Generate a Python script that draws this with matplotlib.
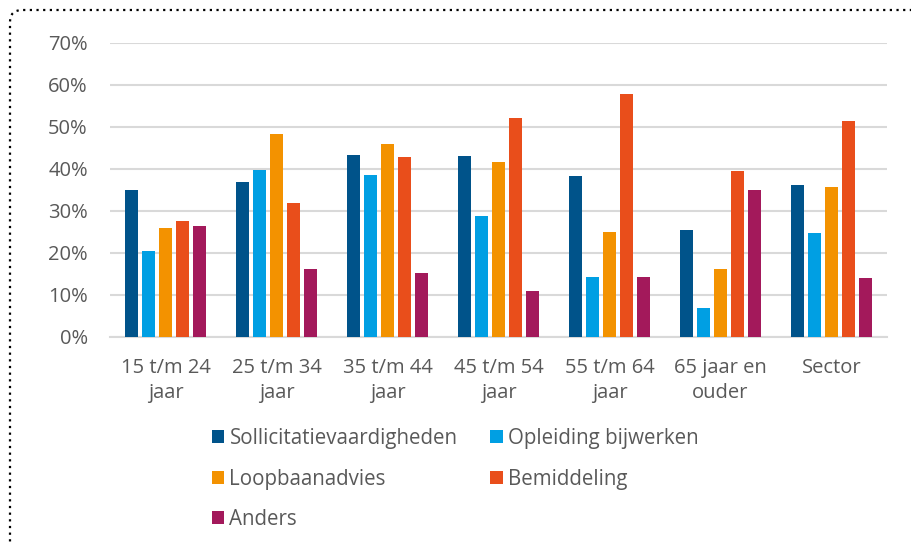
import numpy as np
import matplotlib.pyplot as plt
from matplotlib.patches import FancyBboxPatch

plt.rcParams["font.family"] = ["Open Sans", "DejaVu Sans"]

categories = ["15 t/m 24\njaar", "25 t/m 34\njaar", "35 t/m 44\njaar",
              "45 t/m 54\njaar", "55 t/m 64\njaar", "65 jaar en\nouder", "Sector"]
series = ["Sollicitatievaardigheden", "Opleiding bijwerken", "Loopbaanadvies",
          "Bemiddeling", "Anders"]

sollicitatie = [34.9, 36.9, 43.4, 43.2, 38.4, 25.5, 36.3]
opleiding = [20.5, 39.7, 38.6, 28.7, 14.2, 6.9, 24.8]
loopbaan = [25.9, 48.3, 45.9, 41.7, 25.1, 16.3, 35.8]
bemiddeling = [27.7, 31.9, 42.8, 52.2, 57.9, 39.5, 51.4]
anders = [26.5, 16.3, 15.2, 10.9, 14.4, 34.9, 14.0]

colors = ["#00538A", "#009FE3", "#F39200", "#E94E1B", "#A3195B"]
text_color = "#595959"
grid_color = "#D9D9D9"

values = [sollicitatie, opleiding, loopbaan, bemiddeling, anders]

fig = plt.figure(figsize=(9.12, 5.45), dpi=100)
ax = fig.add_axes([110 / 912, 1 - 337 / 545, 777 / 912, 294 / 545])

x = np.arange(len(categories))
pitch = 0.153
width = 0.12
for i, (vals, name, c) in enumerate(zip(values, series, colors)):
    offs = (i - 2) * pitch
    ax.bar(x + offs, np.array(vals) / 100, width=width, color=c, label=name,
           zorder=3, linewidth=0)

ax.set_xlim(-0.5, len(categories) - 0.5)
ax.set_ylim(0, 0.7)
ax.set_yticks(np.arange(0, 0.71, 0.1))
ax.set_yticklabels([f"{int(round(t * 100))}%" for t in np.arange(0, 0.71, 0.1)])
ax.set_xticks(x)
ax.set_xticklabels(categories, linespacing=1.35)
ax.tick_params(axis="both", length=0, labelsize=14.5, colors=text_color)
ax.tick_params(axis="y", pad=16)
ax.tick_params(axis="x", pad=15)

ax.grid(axis="y", color=grid_color, linewidth=1.5, zorder=0)
for side in ["top", "right", "left"]:
    ax.spines[side].set_visible(False)
ax.spines["bottom"].set_color(grid_color)
ax.spines["bottom"].set_linewidth(1.5)

# legend in row-major order over two columns
handles, labels = ax.get_legend_handles_labels()
order = [0, 2, 4, 1, 3]
fig.legend([handles[k] for k in order], [labels[k] for k in order],
           loc="upper left", bbox_to_anchor=(212 / 912, 1 - 428 / 545),
           ncol=2, frameon=False, fontsize=14.8, labelcolor=text_color,
           handlelength=0.6, handleheight=0.6, handletextpad=0.25,
           columnspacing=1.6, labelspacing=0.95, borderpad=0, borderaxespad=0)

# dotted frame with a rounded corner, open to the right and bottom
frame = FancyBboxPatch((0.1, -1.0), 10.0, 6.35,
                       boxstyle="round,pad=0,rounding_size=0.12",
                       transform=fig.dpi_scale_trans, fill=False,
                       edgecolor="black", linewidth=1.6,
                       linestyle=(0, (1, 2)), clip_on=False)
fig.patches.append(frame)

fig.savefig("out.png", dpi=100)
